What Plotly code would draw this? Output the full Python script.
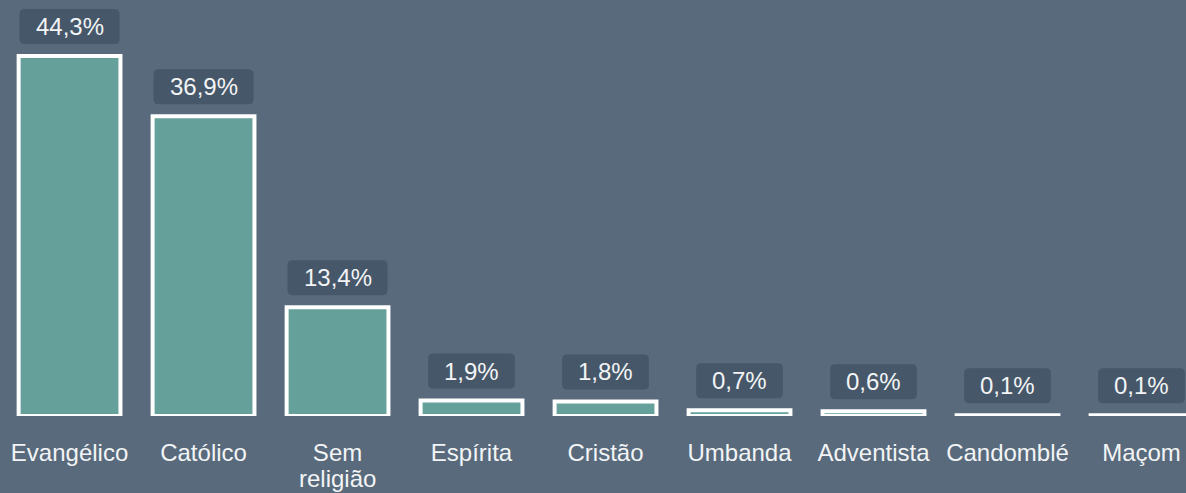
import plotly.graph_objects as go

# Religion share (%)
categories = ["Evangélico", "Católico", "Sem religião", "Espírita", "Cristão",
              "Umbanda", "Adventista", "Candomblé", "Maçom"]
tick_labels = ["Evangélico", "Católico", "Sem<br>religião", "Espírita", "Cristão",
               "Umbanda", "Adventista", "Candomblé", "Maçom"]
values = [44.3, 36.9, 13.4, 1.9, 1.8, 0.7, 0.6, 0.1, 0.1]
value_labels = ["44,3%", "36,9%", "13,4%", "1,9%", "1,8%",
                "0,7%", "0,6%", "0,1%", "0,1%"]

BG = "#586a7c"
BAR = "#66a09a"
BOX = "#465769"
TXT = "#f2f4f5"
FONT = "Arial, Liberation Sans, sans-serif"
FS = 24

# rough Arial advance widths (em) to size the rounded label boxes
_CHAR_EM = {",": 0.278, "%": 0.889}


def _text_px(s, size):
    return sum(_CHAR_EM.get(c, 0.556) for c in s) * size


def _rounded_box(w, h, gap, r=5):
    """Rounded rect path in pixels, relative to the bar top (y up)."""
    x0, x1 = -w / 2, w / 2
    y0, y1 = gap, gap + h
    return (f"M{x0 + r},{y0} L{x1 - r},{y0} Q{x1},{y0} {x1},{y0 + r} "
            f"L{x1},{y1 - r} Q{x1},{y1} {x1 - r},{y1} "
            f"L{x0 + r},{y1} Q{x0},{y1} {x0},{y1 - r} "
            f"L{x0},{y0 + r} Q{x0},{y0} {x0 + r},{y0} Z")


fig = go.Figure()
fig.add_trace(go.Bar(
    x=categories,
    y=values,
    marker=dict(color=BAR, line=dict(color="white", width=4)),
    hoverinfo="skip",
))

GAP, BOX_H = 12, 35
for i, (val, lab) in enumerate(zip(values, value_labels)):
    w = _text_px(lab, FS) + 32
    fig.add_shape(
        type="path",
        xref="x", yref="y",
        xsizemode="pixel", ysizemode="pixel",
        xanchor=i, yanchor=val,
        path=_rounded_box(w, BOX_H, GAP),
        fillcolor=BOX,
        line=dict(width=0),
        layer="above",
    )
    fig.add_annotation(
        x=i, y=val,
        text=lab,
        showarrow=False,
        yanchor="middle",
        yshift=GAP + BOX_H / 2,
        font=dict(family=FONT, size=FS, color=TXT),
    )

# wrapped category labels: first line on the axis, the rest set tighter below
first_lines = [t.split("<br>")[0] for t in tick_labels]
for cat, t in zip(categories, tick_labels):
    rest = t.split("<br>")[1:]
    for k, line in enumerate(rest):
        fig.add_annotation(
            x=cat, y=0, xref="x", yref="paper",
            text=line, showarrow=False,
            yanchor="top", yshift=-47 - 24 * k,
            font=dict(family=FONT, size=FS, color=TXT),
        )

fig.update_layout(
    width=1186,
    height=493,
    margin=dict(l=0, r=0, t=0, b=77),
    paper_bgcolor=BG,
    plot_bgcolor=BG,
    bargap=0.24,
    showlegend=False,
    font=dict(family=FONT, size=FS, color=TXT),
    xaxis=dict(
        range=[-0.519, 8.332],
        tickvals=categories, ticktext=first_lines,
        showgrid=False, zeroline=False, showline=False,
        ticks="", ticklabelstandoff=20, automargin=False,
        tickfont=dict(family=FONT, size=FS, color=TXT),
    ),
    yaxis=dict(
        range=[0, 51.2],
        visible=False,
    ),
)

fig.write_html(
    "out.html",
    config={"displayModeBar": False},
    post_script="document.body.style.margin='0';document.body.style.overflow='hidden';",
)
